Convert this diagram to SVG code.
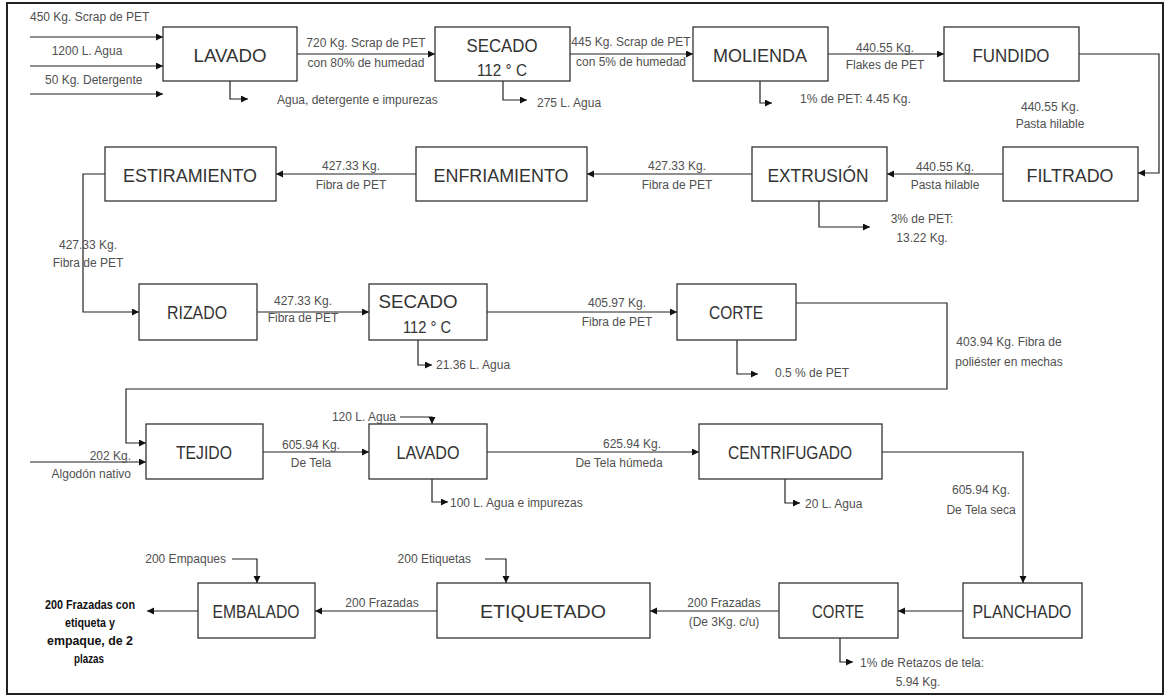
<svg xmlns="http://www.w3.org/2000/svg" width="1169" height="697" viewBox="0 0 1169 697">
<style>
.frame{fill:#fff;stroke:#222;stroke-width:2}
.box{fill:#fff;stroke:#333;stroke-width:1.3}
.t{font-family:"Liberation Sans",Arial,sans-serif;font-size:18px;fill:#333;text-anchor:middle}
.s{font-family:"Liberation Sans",Arial,sans-serif;font-size:12px;fill:#505050}
.m{text-anchor:middle}
.e{text-anchor:end}
.b{font-family:"Liberation Sans",Arial,sans-serif;font-size:12.5px;font-weight:bold;fill:#111;text-anchor:middle}
.c{fill:none;stroke:#222;stroke-width:1.2}
</style>
<defs>
<marker id="ah" markerUnits="userSpaceOnUse" markerWidth="8" markerHeight="8" refX="7" refY="3.5" orient="auto">
<path d="M0,0 L7,3.5 L0,7 z" fill="#111"/>
</marker>
</defs>
<rect class="frame" x="7" y="3" width="1156" height="691"/>

<g id="connectors">
<path class="c" d="M30,37 H163" marker-end="url(#ah)"/>
<path class="c" d="M30,66 H163" marker-end="url(#ah)"/>
<path class="c" d="M30,94 H163" marker-end="url(#ah)"/>
<path class="c" d="M230,81 V99 H248" marker-end="url(#ah)"/>
<path class="c" d="M297,54 H435" marker-end="url(#ah)"/>
<path class="c" d="M503,81 V100 H527" marker-end="url(#ah)"/>
<path class="c" d="M570,54 H693" marker-end="url(#ah)"/>
<path class="c" d="M760,81 V103 H772" marker-end="url(#ah)"/>
<path class="c" d="M828,54 H944" marker-end="url(#ah)"/>
<path class="c" d="M1079,54 H1159 V173 H1138" marker-end="url(#ah)"/>
<path class="c" d="M1003,174 H887" marker-end="url(#ah)"/>
<path class="c" d="M819,201 V227 H870" marker-end="url(#ah)"/>
<path class="c" d="M752,174 H587" marker-end="url(#ah)"/>
<path class="c" d="M416,174 H276" marker-end="url(#ah)"/>
<path class="c" d="M105,174 H83 V312 H139" marker-end="url(#ah)"/>
<path class="c" d="M257,312 H369" marker-end="url(#ah)"/>
<path class="c" d="M487,312 H677" marker-end="url(#ah)"/>
<path class="c" d="M418,340 V365 H432" marker-end="url(#ah)"/>
<path class="c" d="M737,340 V374 H758" marker-end="url(#ah)"/>
<path class="c" d="M796,303 H947 V389 H126 V443 H146" marker-end="url(#ah)"/>
<path class="c" d="M400,417 H432 V424" marker-end="url(#ah)"/>
<path class="c" d="M30,462 H146" marker-end="url(#ah)"/>
<path class="c" d="M263,452 H369" marker-end="url(#ah)"/>
<path class="c" d="M432,479 V502 H448" marker-end="url(#ah)"/>
<path class="c" d="M487,452 H699" marker-end="url(#ah)"/>
<path class="c" d="M785,479 V503 H800" marker-end="url(#ah)"/>
<path class="c" d="M882,452 H1023 V583" marker-end="url(#ah)"/>
<path class="c" d="M963,611 H898" marker-end="url(#ah)"/>
<path class="c" d="M779,611 H650" marker-end="url(#ah)"/>
<path class="c" d="M840,638 V662 H853" marker-end="url(#ah)"/>
<path class="c" d="M437,611 H315" marker-end="url(#ah)"/>
<path class="c" d="M485,559 H506 V583" marker-end="url(#ah)"/>
<path class="c" d="M232,559 H257 V583" marker-end="url(#ah)"/>
<path class="c" d="M198,611 H147" marker-end="url(#ah)"/>
</g>

<g id="labels">
<text class="s" x="30" y="21">450 Kg. Scrap de PET</text>
<text class="s m" x="87" y="55">1200 L. Agua</text>
<text class="s" x="45" y="84">50 Kg. Detergente</text>
<text class="s" x="277" y="104">Agua, detergente e impurezas</text>
<text class="s m" x="366" y="47">720 Kg. Scrap de PET</text>
<text class="s m" x="366" y="67">con 80% de humedad</text>
<text class="s" x="537" y="107">275 L. Agua</text>
<text class="s m" x="631" y="46">445 Kg. Scrap de PET</text>
<text class="s m" x="631" y="66">con 5% de humedad</text>
<text class="s" x="800" y="103">1% de PET: 4.45 Kg.</text>
<text class="s m" x="885" y="52">440.55 Kg.</text>
<text class="s m" x="885" y="69">Flakes de PET</text>
<text class="s m" x="1050" y="111">440.55 Kg.</text>
<text class="s m" x="1050" y="128">Pasta hilable</text>
<text class="s m" x="945" y="171">440.55 Kg.</text>
<text class="s m" x="945" y="189">Pasta hilable</text>
<text class="s m" x="922" y="223">3% de PET:</text>
<text class="s m" x="922" y="242">13.22 Kg.</text>
<text class="s m" x="677" y="170">427.33 Kg.</text>
<text class="s m" x="677" y="189">Fibra de PET</text>
<text class="s m" x="351" y="170">427.33 Kg.</text>
<text class="s m" x="351" y="189">Fibra de PET</text>
<text class="s m" x="88" y="249">427.33 Kg.</text>
<text class="s m" x="88" y="267">Fibra de PET</text>
<text class="s m" x="303" y="305">427.33 Kg.</text>
<text class="s m" x="303" y="322">Fibra de PET</text>
<text class="s m" x="617" y="307">405.97 Kg.</text>
<text class="s m" x="617" y="326">Fibra de PET</text>
<text class="s" x="436" y="369">21.36 L. Agua</text>
<text class="s" x="775" y="377">0.5 % de PET</text>
<text class="s m" x="1009" y="346">403.94 Kg. Fibra de</text>
<text class="s m" x="1009" y="366">poliéster en mechas</text>
<text class="s e" x="396" y="421">120 L. Agua</text>
<text class="s e" x="131" y="460">202 Kg.</text>
<text class="s e" x="131" y="478">Algodón nativo</text>
<text class="s m" x="311" y="449">605.94 Kg.</text>
<text class="s m" x="311" y="467">De Tela</text>
<text class="s" x="450" y="507">100 L. Agua e impurezas</text>
<text class="s m" x="632" y="448">625.94 Kg.</text>
<text class="s m" x="619" y="467">De Tela húmeda</text>
<text class="s" x="805" y="508">20 L. Agua</text>
<text class="s m" x="981" y="494">605.94 Kg.</text>
<text class="s m" x="981" y="514">De Tela seca</text>
<text class="s m" x="724" y="607">200 Frazadas</text>
<text class="s m" x="724" y="626">(De 3Kg. c/u)</text>
<text class="s" x="860" y="667">1% de Retazos de tela:</text>
<text class="s m" x="918" y="686">5.94 Kg.</text>
<text class="s m" x="382" y="607">200 Frazadas</text>
<text class="s e" x="471" y="563">200 Etiquetas</text>
<text class="s e" x="226" y="563">200 Empaques</text>
<text class="b" x="90" y="609" textLength="90" lengthAdjust="spacingAndGlyphs">200 Frazadas con</text>
<text class="b" x="90" y="627" textLength="50" lengthAdjust="spacingAndGlyphs">etiqueta y</text>
<text class="b" x="90" y="645" textLength="86" lengthAdjust="spacingAndGlyphs">empaque, de 2</text>
<text class="b" x="89" y="663" textLength="30" lengthAdjust="spacingAndGlyphs">plazas</text>
</g>

<g id="n-lavado"><rect class="box" x="163" y="27" width="134" height="54"/><text class="t" x="230" y="62" textLength="73" lengthAdjust="spacingAndGlyphs">LAVADO</text></g>
<g id="n-secado"><rect class="box" x="435" y="27" width="135" height="54"/><text class="t" x="502" y="52" textLength="71" lengthAdjust="spacingAndGlyphs">SECADO</text><text class="t" x="502" y="76" style="font-size:17px" textLength="50" lengthAdjust="spacingAndGlyphs">112 ° C</text></g>
<g id="n-molienda"><rect class="box" x="693" y="27" width="135" height="54"/><text class="t" x="760" y="62" textLength="94" lengthAdjust="spacingAndGlyphs">MOLIENDA</text></g>
<g id="n-fundido"><rect class="box" x="944" y="27" width="135" height="54"/><text class="t" x="1011" y="62" textLength="77" lengthAdjust="spacingAndGlyphs">FUNDIDO</text></g>
<g id="n-estiramiento"><rect class="box" x="105" y="147" width="171" height="54"/><text class="t" x="190" y="182" textLength="134" lengthAdjust="spacingAndGlyphs">ESTIRAMIENTO</text></g>
<g id="n-enfriamiento"><rect class="box" x="416" y="147" width="171" height="54"/><text class="t" x="501" y="182" textLength="135" lengthAdjust="spacingAndGlyphs">ENFRIAMIENTO</text></g>
<g id="n-extrusion"><rect class="box" x="752" y="147" width="135" height="54"/><text class="t" x="818" y="182" textLength="101" lengthAdjust="spacingAndGlyphs">EXTRUSIÓN</text></g>
<g id="n-filtrado"><rect class="box" x="1003" y="147" width="135" height="54"/><text class="t" x="1070" y="182" textLength="87" lengthAdjust="spacingAndGlyphs">FILTRADO</text></g>
<g id="n-rizado"><rect class="box" x="139" y="284" width="118" height="56"/><text class="t" x="197" y="319" textLength="60" lengthAdjust="spacingAndGlyphs">RIZADO</text></g>
<g id="n-secado2"><rect class="box" x="369" y="284" width="118" height="56"/><text class="t" x="418" y="308" textLength="79" lengthAdjust="spacingAndGlyphs">SECADO</text><text class="t" x="427" y="333" style="font-size:17px" textLength="48" lengthAdjust="spacingAndGlyphs">112 ° C</text></g>
<g id="n-corte"><rect class="box" x="677" y="284" width="119" height="56"/><text class="t" x="736" y="319" textLength="54" lengthAdjust="spacingAndGlyphs">CORTE</text></g>
<g id="n-tejido"><rect class="box" x="146" y="424" width="117" height="55"/><text class="t" x="204" y="459" textLength="56" lengthAdjust="spacingAndGlyphs">TEJIDO</text></g>
<g id="n-lavado2"><rect class="box" x="369" y="424" width="118" height="55"/><text class="t" x="428" y="459" textLength="63" lengthAdjust="spacingAndGlyphs">LAVADO</text></g>
<g id="n-centrifugado"><rect class="box" x="699" y="424" width="183" height="55"/><text class="t" x="790" y="459" textLength="124" lengthAdjust="spacingAndGlyphs">CENTRIFUGADO</text></g>
<g id="n-embalado"><rect class="box" x="198" y="583" width="117" height="55"/><text class="t" x="256" y="618" textLength="87" lengthAdjust="spacingAndGlyphs">EMBALADO</text></g>
<g id="n-etiquetado"><rect class="box" x="437" y="583" width="213" height="55"/><text class="t" x="543" y="618" textLength="126" lengthAdjust="spacingAndGlyphs">ETIQUETADO</text></g>
<g id="n-corte2"><rect class="box" x="779" y="583" width="119" height="55"/><text class="t" x="838" y="618" textLength="52" lengthAdjust="spacingAndGlyphs">CORTE</text></g>
<g id="n-planchado"><rect class="box" x="963" y="583" width="119" height="55"/><text class="t" x="1022" y="618" textLength="99" lengthAdjust="spacingAndGlyphs">PLANCHADO</text></g>
</svg>
